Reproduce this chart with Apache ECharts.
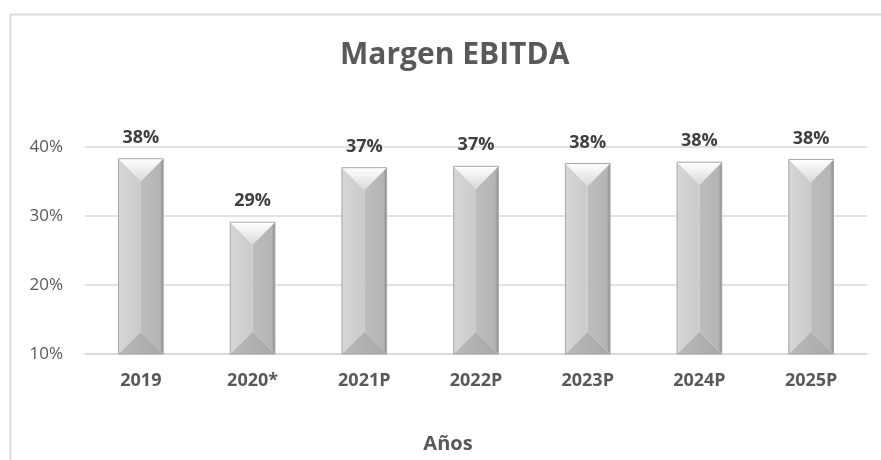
<!DOCTYPE html>
<html>
<head>
<meta charset="utf-8">
<script src="https://cdn.jsdelivr.net/npm/echarts@6/dist/echarts.min.js"></script>
<style>
  html, body { margin: 0; padding: 0; background: #fff; }
  #chart { width: 881px; height: 460px; }
</style>
</head>
<body>
<div id="chart"></div>
<script>
// datos del grafico
var years = ['2019', '2020*', '2021P', '2022P', '2023P', '2024P', '2025P'];
var margin = [38.3, 29.1, 37.0, 37.2, 37.6, 37.8, 38.2];
var marginLabels = ['38%', '29%', '37%', '37%', '38%', '38%', '38%'];

var FONT = '"Open Sans", sans-serif';

// barra con bisel (estilo excel)
function renderBevel(params, api) {
	var idx = api.value(0);
	var top = api.coord([idx, api.value(1)]);
	var base = api.coord([idx, 10]);
	var bw = api.size([1, 0])[0] * 0.4;
	var cx = top[0], x0 = cx - bw / 2, x1 = cx + bw / 2;
	var y0 = top[1], y1 = base[1];
	var d = bw / 2;
	return {
		type: 'group',
		children: [
			{ type: 'polygon', shape: { points: [[x0, y0], [cx, y0 + d], [cx, y1 - d], [x0, y1]] },
			  style: { fill: new echarts.graphic.LinearGradient(0, 0, 1, 0, [{offset: 0, color: '#d6d6d6'}, {offset: 1, color: '#cbcbcb'}]) } },
			{ type: 'polygon', shape: { points: [[x1, y0], [cx, y0 + d], [cx, y1 - d], [x1, y1]] },
			  style: { fill: new echarts.graphic.LinearGradient(0, 0, 1, 0, [{offset: 0, color: '#bdbdbd'}, {offset: 0.85, color: '#b4b4b4'}, {offset: 1, color: '#8f8f8f'}]) } },
			{ type: 'polygon', shape: { points: [[x0, y0], [x1, y0], [cx, y0 + d]] },
			  style: { fill: new echarts.graphic.LinearGradient(0, 0, 0, 1, [{offset: 0, color: '#ffffff'}, {offset: 1, color: '#d9d9d9'}]) } },
			{ type: 'polygon', shape: { points: [[x0, y1], [x1, y1], [cx, y1 - d]] },
			  style: { fill: new echarts.graphic.LinearGradient(0, 0, 1, 0, [{offset: 0, color: '#b9b9b9'}, {offset: 1, color: '#a8a8a8'}]) } },
			{ type: 'rect', shape: { x: x0, y: y0, width: bw, height: y1 - y0 },
			  style: { fill: 'none', stroke: '#a6a6a6', lineWidth: 1 } },
			{ type: 'text', x: cx, y: y0 - 21,
			  style: { text: marginLabels[idx], fill: '#404040', font: 'bold 18px ' + FONT, align: 'center', verticalAlign: 'middle' } }
		]
	};
}

var myChart = echarts.init(document.getElementById('chart'));
var option = {
	animation: false,
	backgroundColor: '#fff',
	graphic: [
		{ type: 'rect', left: 8, top: 12, shape: { width: 880, height: 460 },
		  style: { fill: 'none', stroke: '#d9d9d9', lineWidth: 2 }, silent: true }
	],
	title: {
		text: 'Margen EBITDA',
		left: 335,
		top: 35,
		textStyle: { color: '#595959', fontSize: 30, fontWeight: 'bold', fontFamily: FONT }
	},
	grid: { left: 85, right: 14, top: 147, bottom: 106 },
	xAxis: {
		type: 'category',
		data: years,
		name: 'Años',
		nameLocation: 'middle',
		nameGap: 80,
		nameTextStyle: { color: '#595959', fontSize: 20, fontWeight: 'bold', fontFamily: FONT, padding: [0, 56, 0, 0] },
		axisLine: { lineStyle: { color: '#d9d9d9', width: 1.5 } },
		axisTick: { show: false },
		axisLabel: { color: '#595959', fontSize: 18, fontWeight: 'bold', fontFamily: FONT, margin: 18 }
	},
	yAxis: {
		type: 'value',
		min: 10,
		max: 40,
		interval: 10,
		axisLine: { show: false },
		axisTick: { show: false },
		splitLine: { lineStyle: { color: '#d9d9d9', width: 1.5 } },
		axisLabel: { color: '#595959', fontSize: 17, fontFamily: FONT, margin: 22, formatter: '{value}%' }
	},
	series: [
		{
			type: 'custom',
			renderItem: renderBevel,
			data: margin.map(function (v, i) { return [i, v]; })
		}
	]
};
myChart.setOption(option);
</script>
</body>
</html>
